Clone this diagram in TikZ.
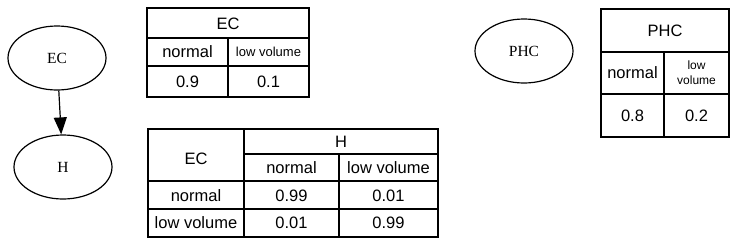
\documentclass[tikz,border=0pt]{standalone}
\usepackage{fontspec}
\setmainfont{Liberation Serif}
\newfontfamily\tabfont{Liberation Sans}
\usetikzlibrary{shapes.geometric,arrows.meta}
\tikzset{
  varnode/.style={ellipse, draw, line width=1.2pt, minimum width=98pt, minimum height=64pt, inner sep=0pt, font=\fontsize{15.5}{15.5}\selectfont},
  tabline/.style={line width=1.2pt},
  cell/.style={inner sep=0pt, font=\tabfont\fontsize{16.5}{16.5}\selectfont},
  smallcell/.style={inner sep=0pt, font=\tabfont\fontsize{13}{13}\selectfont},
  tinycell/.style={inner sep=0pt, align=center, font=\tabfont\fontsize{12}{15}\selectfont},
  edge/.style={line width=1.2pt, -{Triangle[length=17pt,width=13pt]}}
}
\begin{document}
\begin{tikzpicture}[x=1pt,y=-1pt]
\useasboundingbox (0,0) rectangle (739,247);
% ellipses
\node[varnode] (ec) at (57,58) {EC};
\node[varnode] (h) at (63,167) {H};
\node[varnode] (phc) at (524,51) {PHC};
\draw[edge] (ec) -- (h);
% EC table
\draw[tabline] (147,8) rectangle (309,97);
\draw[tabline] (147,38) -- (309,38);
\draw[tabline] (147,66) -- (309,66);
\draw[tabline] (228,38) -- (228,97);
\node[cell] (ect) at (228,23.5) {EC};
\node[cell] (ecn) at (187.5,52) {normal};
\node[smallcell] (ecl) at (268.5,52) {low volume};
\node[cell] (ecv1) at (187.5,81.5) {0.9};
\node[cell] (ecv2) at (268.5,81.5) {0.1};
% PHC table
\draw[tabline] (601,9) rectangle (729,137);
\draw[tabline] (601,52) -- (729,52);
\draw[tabline] (601,94) -- (729,94);
\draw[tabline] (664,52) -- (664,137);
\node[cell] (phct) at (665,30.5) {PHC};
\node[cell] (phcn) at (632.5,73) {normal};
\node[tinycell] (phcl) at (696.5,73) {low\\volume};
\node[cell] (phcv1) at (632.5,115.5) {0.8};
\node[cell] (phcv2) at (696.5,115.5) {0.2};
% H table
\draw[tabline] (148,129) rectangle (438,237);
\draw[tabline] (244,154) -- (438,154);
\draw[tabline] (148,181) -- (438,181);
\draw[tabline] (148,209) -- (438,209);
\draw[tabline] (244,129) -- (244,237);
\draw[tabline] (339,154) -- (339,237);
\node[cell] (hec) at (196,158.5) {EC};
\node[cell] (ht) at (341,142) {H};
\node[cell] (hn) at (291.5,168) {normal};
\node[cell] (hl) at (388.5,168) {low volume};
\node[cell] (r1) at (196,195.5) {normal};
\node[cell] (r1a) at (291.5,195.5) {0.99};
\node[cell] (r1b) at (388.5,195.5) {0.01};
\node[cell] (r2) at (196,223) {low volume};
\node[cell] (r2a) at (291.5,223) {0.01};
\node[cell] (r2b) at (388.5,223) {0.99};
\end{tikzpicture}
\end{document}
